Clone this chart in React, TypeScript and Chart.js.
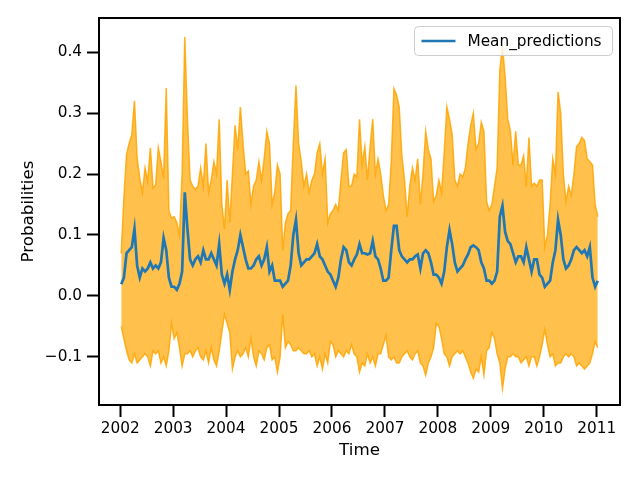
import { useEffect, useRef } from "react";
import { Chart, registerables } from "chart.js";

Chart.register(...registerables);

// Time axis: regular sampling (20 samples per year) from early 2002 to early 2011
const START_YEAR = 2002.02;
const STEP_YEARS = 0.05;
const YEAR_TICKS = [2002, 2003, 2004, 2005, 2006, 2007, 2008, 2009, 2010, 2011];
const PROB_TICKS = [-0.1, 0.0, 0.1, 0.2, 0.3, 0.4];
const MEAN_LABEL = "Mean_predictions";

const UPPER = [
  // 2002
  0.07, 0.16, 0.232, 0.25, 0.265, 0.32, 0.226, 0.193, 0.17, 0.21, 0.188, 0.243, 0.177, 0.182, 0.243, 0.22, 0.193, 0.341, 0.139, 0.128,
  // 2003
  0.13, 0.12, 0.1, 0.2, 0.425, 0.29, 0.19, 0.18, 0.175, 0.18, 0.21, 0.18, 0.25, 0.17, 0.19, 0.22, 0.2, 0.29, 0.15, 0.11,
  // 2004
  0.19, 0.12, 0.2, 0.28, 0.24, 0.31, 0.25, 0.2, 0.205, 0.15, 0.18, 0.19, 0.22, 0.19, 0.225, 0.27, 0.25, 0.15, 0.17, 0.215,
  // 2005
  0.2, 0.075, 0.12, 0.135, 0.14, 0.25, 0.345, 0.25, 0.22, 0.18, 0.2, 0.17, 0.19, 0.2, 0.235, 0.25, 0.2, 0.225, 0.12, 0.135,
  // 2006
  0.14, 0.15, 0.14, 0.19, 0.235, 0.24, 0.18, 0.18, 0.2, 0.195, 0.29, 0.215, 0.245, 0.19, 0.245, 0.29, 0.2, 0.225, 0.2, 0.165,
  // 2007
  0.14, 0.15, 0.22, 0.34, 0.33, 0.31, 0.23, 0.19, 0.13, 0.18, 0.21, 0.19, 0.225, 0.15, 0.2, 0.27, 0.24, 0.225, 0.155, 0.165,
  // 2008
  0.19, 0.17, 0.235, 0.31, 0.29, 0.265, 0.19, 0.18, 0.2, 0.195, 0.21, 0.25, 0.28, 0.3, 0.24, 0.25, 0.285, 0.27, 0.155, 0.14,
  // 2009
  0.15, 0.18, 0.21, 0.37, 0.41, 0.36, 0.29, 0.27, 0.215, 0.27, 0.215, 0.215, 0.23, 0.18, 0.26, 0.18, 0.185, 0.18, 0.19, 0.19,
  // 2010
  0.08, 0.1, 0.15, 0.225, 0.2, 0.335, 0.3, 0.2, 0.155, 0.18, 0.165, 0.2, 0.245, 0.25, 0.26, 0.255, 0.225, 0.22, 0.215, 0.15, 0.13,
];

const MEAN = [
  // 2002
  0.019, 0.03, 0.07, 0.075, 0.08, 0.11, 0.05, 0.03, 0.045, 0.04, 0.045, 0.055, 0.045, 0.05, 0.045, 0.055, 0.095, 0.075, 0.03, 0.015,
  // 2003
  0.015, 0.01, 0.02, 0.04, 0.17, 0.11, 0.06, 0.05, 0.06, 0.065, 0.055, 0.075, 0.06, 0.06, 0.07, 0.06, 0.05, 0.085, 0.035, 0.02,
  // 2004
  0.035, 0.01, 0.04, 0.06, 0.075, 0.1, 0.08, 0.06, 0.045, 0.045, 0.05, 0.06, 0.065, 0.05, 0.06, 0.08, 0.04, 0.05, 0.025, 0.025,
  // 2005
  0.025, 0.015, 0.02, 0.025, 0.05, 0.1, 0.125, 0.07, 0.05, 0.055, 0.06, 0.06, 0.065, 0.07, 0.085, 0.065, 0.06, 0.05, 0.04, 0.035,
  // 2006
  0.025, 0.015, 0.03, 0.06, 0.08, 0.075, 0.055, 0.05, 0.06, 0.068, 0.085, 0.07, 0.07, 0.068, 0.07, 0.09, 0.065, 0.06, 0.045, 0.025,
  // 2007
  0.025, 0.03, 0.075, 0.115, 0.115, 0.075, 0.065, 0.06, 0.055, 0.06, 0.06, 0.065, 0.068, 0.045, 0.07, 0.075, 0.07, 0.055, 0.035, 0.035,
  // 2008
  0.03, 0.02, 0.04, 0.08, 0.108, 0.085, 0.055, 0.04, 0.045, 0.05, 0.06, 0.068, 0.08, 0.083, 0.08, 0.075, 0.055, 0.045, 0.025, 0.025,
  // 2009
  0.02, 0.025, 0.04, 0.13, 0.148, 0.105, 0.09, 0.085, 0.07, 0.055, 0.065, 0.065, 0.055, 0.08, 0.06, 0.04, 0.06, 0.06, 0.035, 0.03,
  // 2010
  0.015, 0.02, 0.025, 0.055, 0.075, 0.125, 0.1, 0.06, 0.045, 0.05, 0.06, 0.075, 0.08, 0.075, 0.07, 0.075, 0.065, 0.08, 0.03, 0.015, 0.025,
];

const LOWER = [
  // 2002
  -0.05, -0.07, -0.09, -0.105, -0.11, -0.095, -0.11, -0.105, -0.1, -0.095, -0.1, -0.115, -0.09, -0.095, -0.09, -0.11, -0.1, -0.115, -0.09, -0.045,
  // 2003
  -0.07, -0.06, -0.085, -0.115, -0.095, -0.095, -0.09, -0.1, -0.09, -0.085, -0.1, -0.105, -0.09, -0.11, -0.085, -0.105, -0.115, -0.09, -0.06, -0.03,
  // 2004
  -0.045, -0.06, -0.12, -0.1, -0.09, -0.1, -0.095, -0.085, -0.1, -0.07, -0.1, -0.115, -0.09, -0.095, -0.105, -0.085, -0.08, -0.105, -0.1, -0.125,
  // 2005
  -0.1, -0.03, -0.085, -0.075, -0.08, -0.09, -0.09, -0.085, -0.09, -0.095, -0.095, -0.09, -0.1, -0.095, -0.115, -0.1, -0.12, -0.095, -0.11, -0.075,
  // 2006
  -0.08, -0.1, -0.09, -0.095, -0.1, -0.09, -0.095, -0.08, -0.095, -0.1, -0.125, -0.11, -0.115, -0.095, -0.11, -0.1, -0.115, -0.095, -0.095, -0.08,
  // 2007
  -0.065, -0.1, -0.105, -0.1, -0.11, -0.11, -0.1, -0.095, -0.09, -0.1, -0.105, -0.095, -0.09, -0.11, -0.115, -0.13, -0.11, -0.1, -0.085, -0.045,
  // 2008
  -0.05, -0.07, -0.095, -0.1, -0.115, -0.1, -0.095, -0.09, -0.095, -0.09, -0.1, -0.11, -0.125, -0.135, -0.12, -0.125, -0.1, -0.13, -0.09, -0.085,
  // 2009
  -0.06, -0.07, -0.095, -0.11, -0.152, -0.12, -0.1, -0.1, -0.095, -0.1, -0.1, -0.11, -0.105, -0.1, -0.115, -0.1, -0.1, -0.115, -0.1, -0.08,
  // 2010
  -0.055, -0.08, -0.1, -0.095, -0.115, -0.11, -0.11, -0.1, -0.095, -0.1, -0.095, -0.1, -0.115, -0.11, -0.115, -0.12, -0.115, -0.11, -0.095, -0.075, -0.085,
];

const TIMES = MEAN.map((_, i) => START_YEAR + i * STEP_YEARS);

const FONT_FAMILY = "'DejaVu Sans', sans-serif";

export default function App() {
  const canvasRef = useRef<HTMLCanvasElement | null>(null);

  useEffect(() => {
    const canvas = canvasRef.current;
    if (!canvas) return;

    const toPoints = (arr: number[]) => arr.map((y, i) => ({ x: TIMES[i], y }));

    const framePlugin = {
      id: "frame",
      afterDatasetsDraw(chart: any) {
        const { ctx, chartArea: a } = chart;
        ctx.save();
        ctx.strokeStyle = "#000";
        ctx.lineWidth = 2;
        ctx.strokeRect(a.left, a.top, a.right - a.left, a.bottom - a.top);
        ctx.restore();
      },
    };

    const legendPlugin = {
      id: "mplLegend",
      afterDraw(chart: any) {
        const { ctx, chartArea: a } = chart;
        const label = chart.data.datasets[0].label as string;
        ctx.save();
        ctx.font = `15.3px ${FONT_FAMILY}`;
        const tw = ctx.measureText(label).width;
        const right = a.right - 7.5;
        const top = a.top + 8.5;
        const h = 29;
        const w = Math.max(tw + 61, 198);
        const left = right - w;
        ctx.beginPath();
        ctx.roundRect(left, top, w, h, 4);
        ctx.fillStyle = "rgba(255,255,255,0.8)";
        ctx.fill();
        ctx.strokeStyle = "#cccccc";
        ctx.lineWidth = 1;
        ctx.stroke();
        const cy = top + h / 2;
        ctx.beginPath();
        ctx.moveTo(left + 7, cy);
        ctx.lineTo(left + 41, cy);
        ctx.strokeStyle = "#1f77b4";
        ctx.lineWidth = 2.6;
        ctx.stroke();
        ctx.fillStyle = "#000";
        ctx.textBaseline = "middle";
        ctx.textAlign = "left";
        ctx.fillText(label, left + 53, cy + 1);
        ctx.restore();
      },
    };

    const tickFont = { family: FONT_FAMILY, size: 15.3 };
    const titleFont = { family: FONT_FAMILY, size: 16.7 };

    const chart = new Chart(canvas, {
      type: "line",
      data: {
        datasets: [
          {
            label: MEAN_LABEL,
            data: toPoints(MEAN),
            borderColor: "#1f77b4",
            borderWidth: 2.7,
            pointRadius: 0,
            fill: false,
            tension: 0,
          },
          {
            label: "upper",
            data: toPoints(UPPER),
            borderColor: "rgba(255,165,0,0.85)",
            backgroundColor: "rgba(255,165,0,0.7)",
            borderWidth: 1.5,
            pointRadius: 0,
            fill: "+1",
            tension: 0,
          },
          {
            label: "lower",
            data: toPoints(LOWER),
            borderColor: "rgba(255,165,0,0.85)",
            borderWidth: 1.5,
            pointRadius: 0,
            fill: false,
            tension: 0,
          },
        ],
      },
      options: {
        responsive: false,
        animation: false,
        events: [],
        layout: { padding: { top: 18, right: 20, left: 0, bottom: 0 } },
        plugins: {
          legend: { display: false },
          tooltip: { enabled: false },
        },
        scales: {
          x: {
            type: "linear",
            min: 2001.6,
            max: 2011.44,
            afterFit: (s: any) => {
              s.height = 75;
            },
            afterBuildTicks: (s: any) => {
              s.ticks = YEAR_TICKS.map((v) => ({ value: v }));
            },
            grid: {
              drawOnChartArea: false,
              drawTicks: true,
              tickLength: 12,
              tickWidth: 2,
              color: "#000",
            },
            border: { display: true, color: "#000", width: 2 },
            ticks: {
              color: "#000",
              font: tickFont,
              padding: 3,
              maxRotation: 0,
              autoSkip: false,
              callback: (v: any) => String(v),
            },
            title: {
              display: true,
              text: "Time",
              color: "#000",
              font: titleFont,
              padding: { top: 0, bottom: 19 },
            },
          },
          y: {
            type: "linear",
            min: -0.179,
            max: 0.456,
            afterFit: (s: any) => {
              s.width = 99;
            },
            afterBuildTicks: (s: any) => {
              s.ticks = PROB_TICKS.map((v) => ({ value: v }));
            },
            grid: {
              drawOnChartArea: false,
              drawTicks: true,
              tickLength: 12,
              tickWidth: 2,
              color: "#000",
            },
            border: { display: true, color: "#000", width: 2 },
            ticks: {
              color: "#000",
              font: tickFont,
              padding: 5,
              callback: (v: any) => Number(v).toFixed(1).replace("-", "\u2212"),
            },
            title: {
              display: true,
              text: "Probabilities",
              color: "#000",
              font: titleFont,
              padding: { top: 19, bottom: 0 },
            },
          },
        },
      },
      plugins: [framePlugin, legendPlugin],
    });

    return () => {
      chart.destroy();
    };
  }, []);

  return (
    <div
      style={{
        position: "fixed",
        left: 0,
        top: 0,
        width: 640,
        height: 480,
        background: "#fff",
      }}
    >
      <canvas ref={canvasRef} width={640} height={480} style={{ display: "block" }} />
    </div>
  );
}
